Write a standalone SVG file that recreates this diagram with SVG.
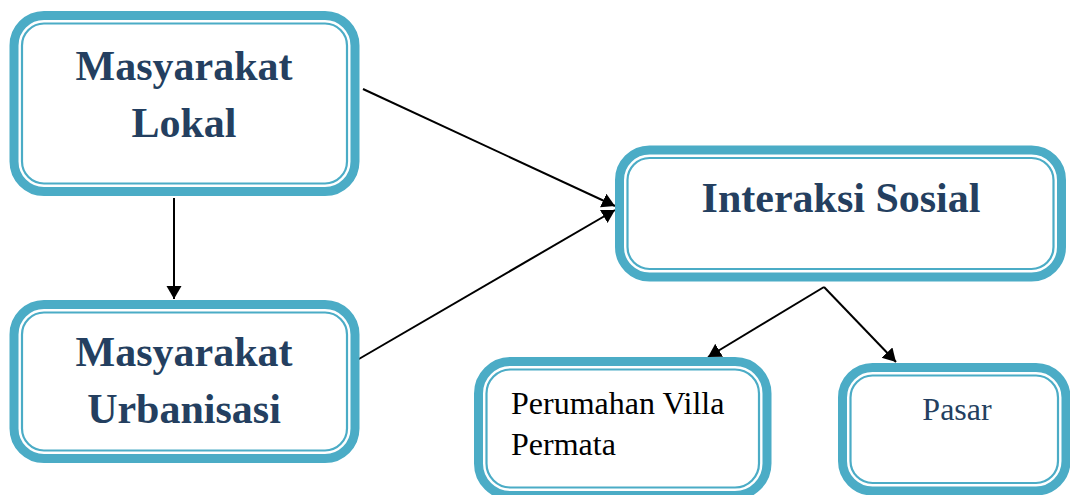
<svg xmlns="http://www.w3.org/2000/svg" width="1070" height="495" viewBox="0 0 1070 495">
  <style>
    .outer { fill: #ffffff; stroke: #4BACC6; stroke-width: 9; }
    .inner { fill: none; stroke: #4BACC6; stroke-width: 2.2; }
    .bold { font-family: "Liberation Serif", "Times New Roman", serif; font-weight: bold; font-size: 42px; fill: #243F60; text-anchor: middle; }
    .reg { font-family: "Liberation Serif", "Times New Roman", serif; font-size: 32px; }
    .conn { stroke: #000000; stroke-width: 2; fill: none; marker-end: url(#arrow); }
  </style>
  <defs>
    <marker id="arrow" markerUnits="userSpaceOnUse" markerWidth="16" markerHeight="16" refX="13" refY="7.5" orient="auto">
      <path d="M0,0 L13,7.5 L0,15 z" fill="#000000"/>
    </marker>
  </defs>
  <rect width="1070" height="495" fill="#ffffff"/>

  <g id="connectors">
    <line class="conn" x1="363" y1="89" x2="615" y2="206"/>
    <line class="conn" x1="352" y1="363" x2="615" y2="210"/>
    <line class="conn" x1="174" y1="198" x2="174" y2="299"/>
    <line class="conn" x1="824" y1="287" x2="708" y2="357"/>
    <line class="conn" x1="824" y1="287" x2="896" y2="362"/>
  </g>

  <g id="masyarakat-lokal">
    <rect class="outer" x="14" y="15.5" width="341" height="176" rx="30"/>
    <rect class="inner" x="22" y="23.5" width="325" height="160" rx="22"/>
    <text class="bold" x="184" y="80">Masyarakat</text>
    <text class="bold" x="184" y="137">Lokal</text>
  </g>

  <g id="masyarakat-urbanisasi">
    <rect class="outer" x="14" y="304.5" width="341" height="154" rx="30"/>
    <rect class="inner" x="22" y="312.5" width="325" height="138" rx="22"/>
    <text class="bold" x="184" y="366">Masyarakat</text>
    <text class="bold" x="184" y="423">Urbanisasi</text>
  </g>

  <g id="interaksi-sosial">
    <rect class="outer" x="619.5" y="150" width="442" height="127" rx="30"/>
    <rect class="inner" x="627.5" y="158" width="426" height="111" rx="22"/>
    <text class="bold" x="841" y="212">Interaksi Sosial</text>
  </g>

  <g id="perumahan-villa-permata">
    <rect class="outer" x="478.5" y="361.5" width="288.5" height="134" rx="32"/>
    <rect class="inner" x="486.5" y="369.5" width="272.5" height="118" rx="24"/>
    <text class="reg" x="511" y="414" fill="#000000">Perumahan Villa</text>
    <text class="reg" x="511" y="455" fill="#000000">Permata</text>
  </g>

  <g id="pasar">
    <rect class="outer" x="842.5" y="367.5" width="223.5" height="123.5" rx="30"/>
    <rect class="inner" x="850.5" y="375.5" width="207.5" height="107.5" rx="22"/>
    <text class="reg" x="957" y="420" fill="#243F60" text-anchor="middle">Pasar</text>
  </g>
</svg>
